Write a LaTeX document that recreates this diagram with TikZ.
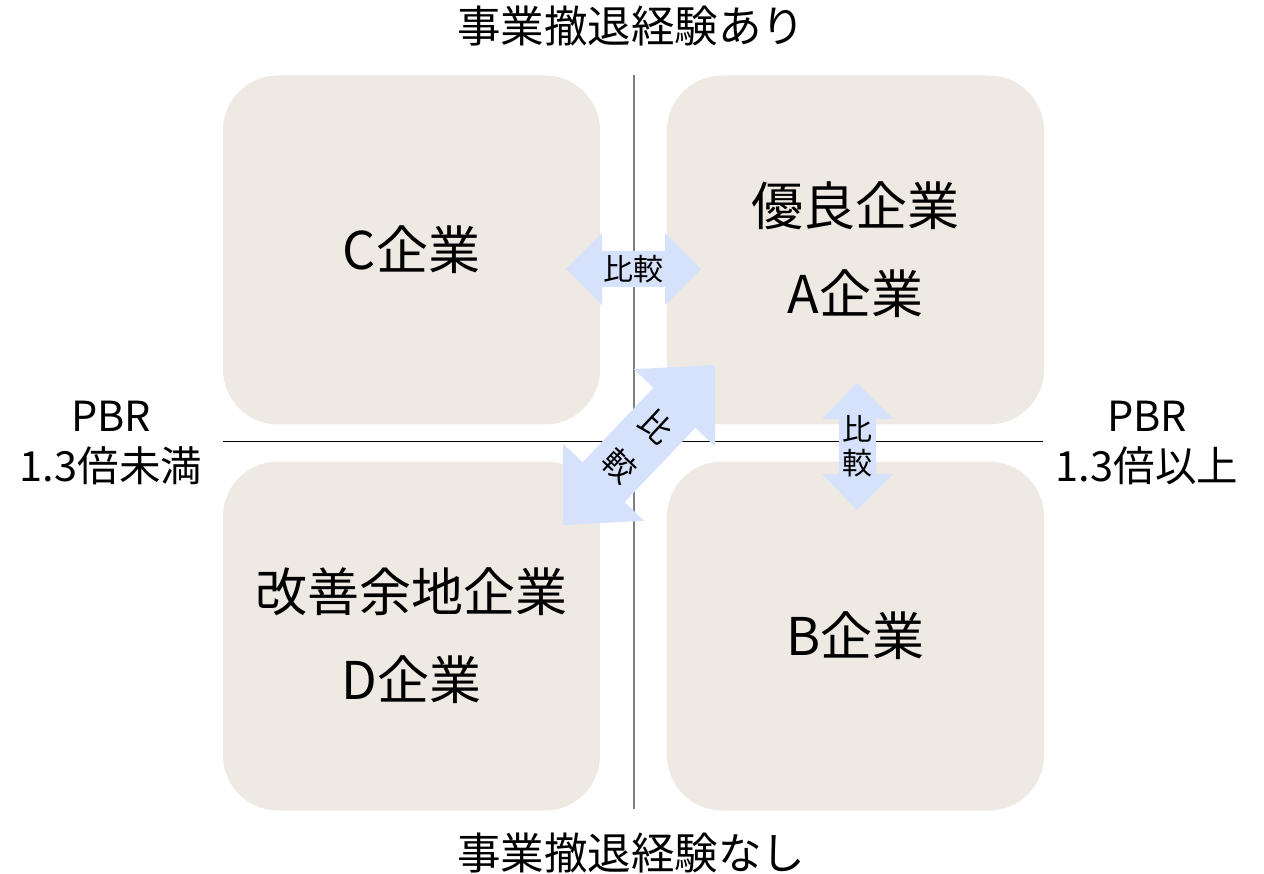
\documentclass[tikz,border=0pt]{standalone}
\usepackage{fontspec}
\setmainfont{Noto Sans CJK JP}
\definecolor{boxfill}{HTML}{EEEAE3}
\definecolor{arrowfill}{HTML}{D6E1FC}
\definecolor{axisgray}{HTML}{7F7F7F}
\tikzset{
  quadbox/.style={fill=boxfill, draw=none, rounded corners=55pt, minimum width=377pt, minimum height=349pt, inner sep=0pt, align=center, font=\fontsize{52}{88}\selectfont},
  axislabel/.style={inner sep=0pt, align=center, font=\fontsize{43.5}{50}\selectfont},
  sidelabel/.style={inner sep=0pt, align=center, font=\fontsize{41.5}{50}\selectfont},
  arrowlabel/.style={inner sep=0pt, align=center, font=\fontsize{30}{34}\selectfont},
  cmparrow/.style={fill=arrowfill, draw=none},
}
\begin{document}
\begin{tikzpicture}[x=1pt,y=-1pt]
\useasboundingbox (0,0) rectangle (1264,874);
% quadrant boxes
\node[quadbox] (C) at (411.5,250) {C企業};
\node[quadbox] (A) at (855.5,250) {優良企業\\A企業};
\node[quadbox] (D) at (411.5,636) {改善余地企業\\D企業};
\node[quadbox] (B) at (855.5,636) {B企業};
% axes
\coordinate (vtop) at (633.5,75);
\coordinate (vbot) at (633.5,809);
\coordinate (hleft) at (223,441.5);
\coordinate (hright) at (1043,441.5);
\draw[axisgray, line width=2pt] (vtop) -- (vbot);
\draw[black, line width=1pt] (hleft) -- (hright);
% axis labels
\node[axislabel] (top) at (631,26) {事業撤退経験あり};
\node[axislabel] (bottom) at (631,853) {事業撤退経験なし};
\node[sidelabel] (left) at (111,443) {PBR\\1.3倍未満};
\node[sidelabel] (right) at (1147,443) {PBR\\1.3倍以上};
% horizontal compare arrow
\fill[cmparrow] (566,269) -- (602,233) -- (602,251) -- (665,251) -- (665,233) -- (701,269)
  -- (665,305) -- (665,287) -- (602,287) -- (602,305) -- cycle;
\node[arrowlabel] (hcmp) at (633.5,269) {比較};
% vertical compare arrow
\fill[cmparrow] (857,383) -- (893,419) -- (876,419) -- (876,474) -- (893,474) -- (857,510)
  -- (822,474) -- (839,474) -- (839,419) -- (822,419) -- cycle;
\node[arrowlabel] (vcmp) at (857.5,446) {比\\較};
% diagonal compare arrow
\fill[cmparrow] (715,365) -- (715,446.4) -- (695.4,427.8) -- (624.6,502.2) -- (644.2,520.8)
  -- (563,525) -- (563,443.6) -- (582.6,462.2) -- (653.4,387.8) -- (633.8,369.2) -- cycle;
\node[arrowlabel, rotate=-43, font=\fontsize{32}{54}\selectfont] (dcmp) at (638,446) {比\\較};
\end{tikzpicture}
\end{document}
